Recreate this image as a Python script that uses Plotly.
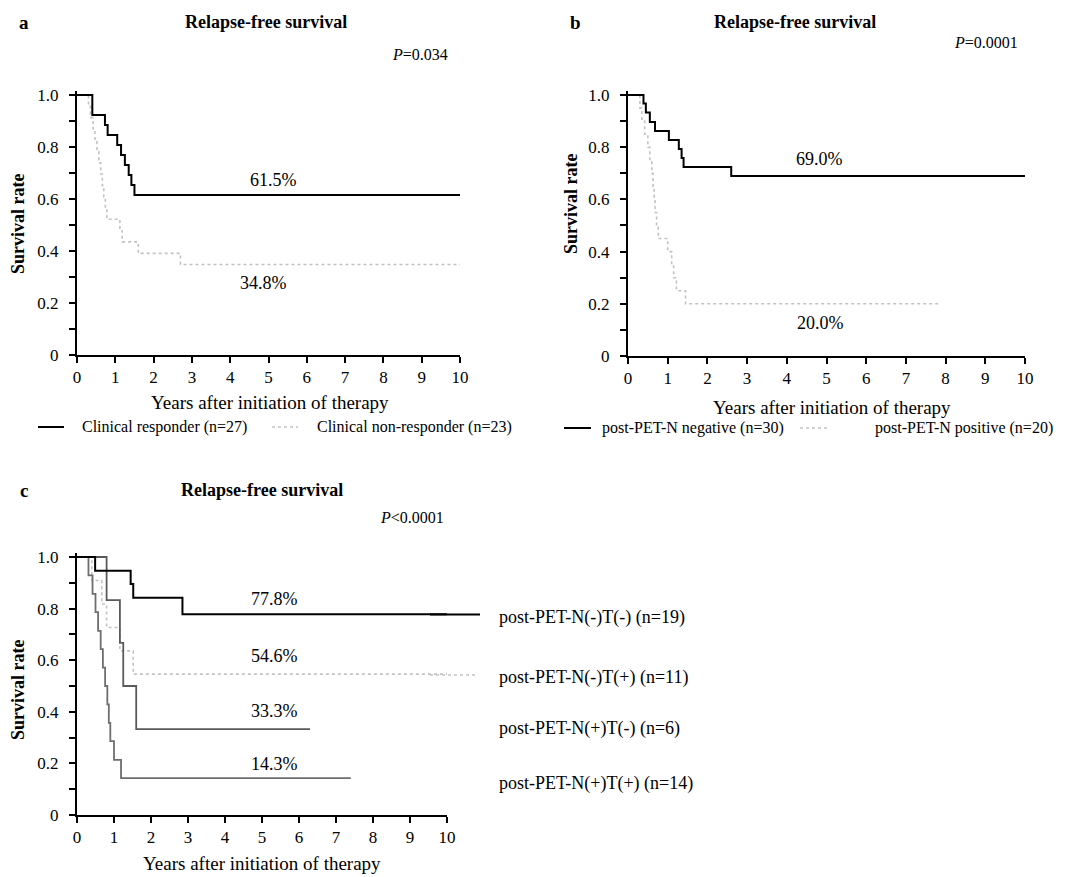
import plotly.graph_objects as go

PAGE_W, PAGE_H = 1083, 877
BODY = 8  # default page margin around the plot div
W, H = PAGE_W - BODY, PAGE_H - BODY
FONT = "Liberation Serif"

# ---------------- data ----------------
years = list(range(0, 11))
y_ticks = [0, 0.2, 0.4, 0.6, 0.8, 1.0]
y_ticktext = ["0", "0.2", "0.4", "0.6", "0.8", "1.0"]

# Panel a
a_resp_t = [0, 0.40, 0.73, 0.80, 1.05, 1.15, 1.25, 1.35, 1.42, 1.50, 10]
a_resp_s = [1.0, 0.923, 0.885, 0.846, 0.808, 0.769, 0.731, 0.692, 0.654, 0.615, 0.615]
a_non_t = [0, 0.30, 0.35, 0.42, 0.47, 0.52, 0.57, 0.62, 0.66, 0.70, 0.74, 0.78,
           1.12, 1.18, 1.60, 2.70, 10]
a_non_s = [1.0, 0.957, 0.913, 0.870, 0.826, 0.783, 0.739, 0.696, 0.652, 0.609, 0.565,
           0.522, 0.478, 0.435, 0.391, 0.348, 0.348]

# Panel b
b_neg_t = [0, 0.39, 0.45, 0.55, 0.68, 1.03, 1.28, 1.35, 1.40, 2.60, 10]
b_neg_s = [1.0, 0.967, 0.933, 0.897, 0.862, 0.828, 0.793, 0.759, 0.724, 0.690, 0.690]
b_pos_t = [0, 0.30, 0.35, 0.42, 0.50, 0.55, 0.60, 0.63, 0.66, 0.68, 0.72, 0.76,
           1.00, 1.10, 1.15, 1.22, 1.45, 7.86]
b_pos_s = [1.0, 0.95, 0.90, 0.85, 0.80, 0.75, 0.70, 0.65, 0.60, 0.55, 0.50, 0.45,
           0.40, 0.35, 0.30, 0.25, 0.20, 0.20]

# Panel c
c_nntn_t = [0, 0.49, 1.45, 1.52, 2.85, 10]
c_nntn_s = [1.0, 0.947, 0.895, 0.842, 0.778, 0.778]
c_nntp_t = [0, 0.40, 0.67, 0.80, 1.16, 1.52, 10]
c_nntp_s = [1.0, 0.909, 0.818, 0.727, 0.636, 0.546, 0.546]
c_nptn_t = [0, 0.80, 1.16, 1.25, 1.60, 6.3]
c_nptn_s = [1.0, 0.833, 0.667, 0.5, 0.333, 0.333]
c_nptp_t = [0, 0.31, 0.42, 0.50, 0.57, 0.64, 0.70, 0.76, 0.82, 0.86, 0.90, 1.00, 1.19, 7.4]
c_nptp_s = [1.0, 0.929, 0.857, 0.786, 0.714, 0.643, 0.571, 0.50, 0.429, 0.357, 0.286,
            0.214, 0.143, 0.143]

a_labels = ["Clinical responder (n=27)", "Clinical non-responder (n=23)"]
b_labels = ["post-PET-N negative (n=30)", "post-PET-N positive (n=20)"]
c_labels = ["post-PET-N(-)T(-) (n=19)", "post-PET-N(-)T(+) (n=11)",
            "post-PET-N(+)T(-) (n=6)", "post-PET-N(+)T(+) (n=14)"]
pct_a = ["61.5%", "34.8%"]
pct_b = ["69.0%", "20.0%"]
pct_c = ["77.8%", "54.6%", "33.3%", "14.3%"]

# ---------------- styling ----------------
BLACK = dict(color="black", width=2)
LIGHT = dict(color="#c2c2c2", width=1.6, dash="dot")
DARK1 = dict(color="#5a5a5a", width=1.8)
DARK2 = dict(color="#6e6e6e", width=1.8)

YPAD = 0.015


def px(x):
    return (x - BODY) / W


def py(y):
    return 1 - (y - BODY) / H


def domains(x0, x10, y0, y1):
    top = y1 - YPAD * (y0 - y1)
    return [px(x0), px(x10)], [py(y0), py(top)]


# page-pixel positions of (x=0, x=10, y=0, y=1)
panels = {
    "": (77, 460, 355, 95),
    "2": (628, 1025, 356, 95),
    "3": (77, 447, 815, 557),
}

fig = go.Figure()


def add_curve(t, s, line, ax):
    fig.add_trace(go.Scatter(x=t, y=s, mode="lines", line=line, line_shape="hv",
                             xaxis="x" + ax, yaxis="y" + ax, showlegend=False,
                             hoverinfo="skip"))


add_curve(a_non_t, a_non_s, LIGHT, "")
add_curve(a_resp_t, a_resp_s, BLACK, "")
add_curve(b_pos_t, b_pos_s, LIGHT, "2")
add_curve(b_neg_t, b_neg_s, BLACK, "2")
add_curve(c_nntp_t, c_nntp_s, LIGHT, "3")
add_curve(c_nptp_t, c_nptp_s, DARK2, "3")
add_curve(c_nptn_t, c_nptn_s, DARK1, "3")
add_curve(c_nntn_t, c_nntn_s, BLACK, "3")

layout = dict(template="none", width=W, height=H,
              margin=dict(l=0, r=0, t=0, b=0, pad=0, autoexpand=False),
              paper_bgcolor="white", plot_bgcolor="white",
              font=dict(family=FONT, color="black", size=17), showlegend=False)

for ax, (x0, x10, y0, y1) in panels.items():
    xd, yd = domains(x0, x10, y0, y1)
    layout["xaxis" + ax] = dict(
        domain=xd, range=[0, 10], anchor="y" + ax, tickvals=years,
        ticks="outside", ticklen=6, tickwidth=1.5, tickcolor="black",
        showline=True, linewidth=2, linecolor="black", showgrid=False,
        zeroline=False, automargin=False, tickfont=dict(size=17, family=FONT))
    layout["yaxis" + ax] = dict(
        domain=yd, range=[0, 1 + YPAD], anchor="x" + ax, tickvals=y_ticks,
        ticktext=y_ticktext, ticks="outside", ticklen=6, tickwidth=1.5,
        tickcolor="black", showline=True, linewidth=2, linecolor="black",
        showgrid=False, zeroline=False, automargin=False, ticklabelstandoff=7,
        tickfont=dict(size=17, family=FONT),
        minor=dict(tickvals=[0.1, 0.3, 0.5, 0.7, 0.9], ticks="outside",
                   ticklen=6, tickwidth=1.5, tickcolor="black"))

fig.update_layout(**layout)

ann = []


def text(x, y, s, size=17, bold=False, xanchor="center", angle=0):
    if bold:
        s = "<b>" + s + "</b>"
    ann.append(dict(x=px(x), y=py(y), xref="paper", yref="paper", text=s,
                    showarrow=False, xanchor=xanchor, yanchor="middle",
                    textangle=angle, font=dict(family=FONT, size=size, color="black")))


# Panel letters and titles
text(24, 22, "a", 19, True)
text(266, 22, "Relapse-free survival", 18, True)
text(575, 22, "b", 19, True)
text(795, 22, "Relapse-free survival", 18, True)
text(24, 490, "c", 19, True)
text(262, 490, "Relapse-free survival", 18, True)

# P values
text(450, 55, "<i>P</i>=0.034", 16, xanchor="right")
text(1020, 42, "<i>P</i>=0.0001", 16, xanchor="right")
text(446, 517, "<i>P</i>&lt;0.0001", 16, xanchor="right")

# Axis titles
text(18, 224, "Survival rate", 18, True, angle=-90)
text(571, 204, "Survival rate", 18, True, angle=-90)
text(18, 690, "Survival rate", 18, True, angle=-90)
text(270, 402, "Years after initiation of therapy", 19)
text(832, 407, "Years after initiation of therapy", 19)
text(262, 863, "Years after initiation of therapy", 19)

# Percent labels
text(273, 180, pct_a[0], 18)
text(263, 283, pct_a[1], 18)
text(819, 159, pct_b[0], 18)
text(820, 323, pct_b[1], 18)
for lab, yy in zip(pct_c, [599, 656, 711, 764]):
    text(274, yy, lab, 18)

# Legends
text(80, 427, a_labels[0], 16, xanchor="left")
text(315, 427, a_labels[1], 16, xanchor="left")
text(600, 428, b_labels[0], 16, xanchor="left")
text(873, 428, b_labels[1], 16, xanchor="left")
for lab, yy in zip(c_labels, [617, 677, 728, 783]):
    text(497, yy, lab, 18, xanchor="left")

fig.update_layout(annotations=ann)

shapes = []


def seg(x0, x1, y, line):
    shapes.append(dict(type="line", xref="paper", yref="paper", x0=px(x0), x1=px(x1),
                       y0=py(y), y1=py(y), line=line))


seg(38, 64, 427, BLACK)
seg(272, 298, 427, LIGHT)
seg(564, 591, 428, BLACK)
seg(800, 830, 428, LIGHT)
seg(430, 480, 614.5, BLACK)
seg(430, 477, 675, LIGHT)
fig.update_layout(shapes=shapes)

fig.write_html("out.html")
